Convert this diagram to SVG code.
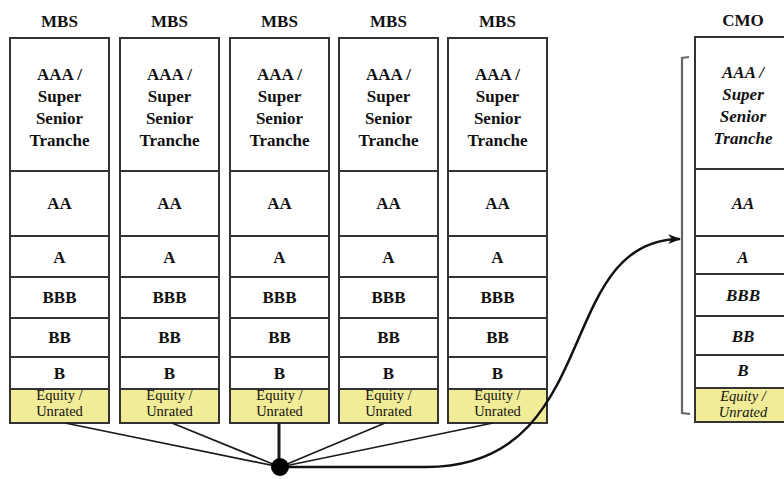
<svg xmlns="http://www.w3.org/2000/svg" width="784" height="479" viewBox="0 0 784 479">
<defs>
<style>
.box{fill:#fff;stroke:#333;stroke-width:2}
.eq{fill:#f1ec98;stroke:#333;stroke-width:2}
.div{stroke:#333;stroke-width:1.8}
.t{font-family:"Liberation Serif","Times New Roman",serif;font-weight:bold;font-size:17px;fill:#111;text-anchor:middle}
.e{font-family:"Liberation Serif","Times New Roman",serif;font-size:14.5px;fill:#111;text-anchor:middle}
.i{font-style:italic}
.fan{stroke:#1a1a1a;stroke-width:1.7;fill:none}
</style>
<marker id="arr" viewBox="0 0 12 10" refX="11" refY="5" markerWidth="13" markerHeight="11" markerUnits="userSpaceOnUse" orient="auto">
<path d="M0,0.5 L12,5 L0,9.5 L3.5,5 Z" fill="#111"/>
</marker>
<g id="mbsCol">
<rect class="box" x="0" y="38" width="99" height="385"/>
<line class="div" x1="0" y1="171" x2="99" y2="171"/>
<line class="div" x1="0" y1="236" x2="99" y2="236"/>
<line class="div" x1="0" y1="277" x2="99" y2="277"/>
<line class="div" x1="0" y1="318" x2="99" y2="318"/>
<line class="div" x1="0" y1="357" x2="99" y2="357"/>
<rect class="eq" x="0" y="389" width="99" height="34"/>
<text class="t" x="49.5" y="27">MBS</text>
<text class="t" x="49.5" y="80">AAA /</text>
<text class="t" x="49.5" y="102">Super</text>
<text class="t" x="49.5" y="124">Senior</text>
<text class="t" x="49.5" y="146">Tranche</text>
<text class="t" x="49.5" y="209">AA</text>
<text class="t" x="49.5" y="263">A</text>
<text class="t" x="49.5" y="303">BBB</text>
<text class="t" x="49.5" y="343">BB</text>
<text class="t" x="49.5" y="379">B</text>
<text class="e" x="49.5" y="400">Equity /</text>
<text class="e" x="49.5" y="416">Unrated</text>
</g>
</defs>
<g id="mbs1"><use href="#mbsCol" x="10"/></g>
<g id="mbs2"><use href="#mbsCol" x="120"/></g>
<g id="mbs3"><use href="#mbsCol" x="230"/></g>
<g id="mbs4"><use href="#mbsCol" x="339"/></g>
<g id="mbs5"><use href="#mbsCol" x="448"/></g>
<g id="cmo">
<rect class="box" x="695" y="37" width="98" height="385"/>
<line class="div" x1="695" y1="169" x2="793" y2="169"/>
<line class="div" x1="695" y1="236" x2="793" y2="236"/>
<line class="div" x1="695" y1="274" x2="793" y2="274"/>
<line class="div" x1="695" y1="316" x2="793" y2="316"/>
<line class="div" x1="695" y1="355" x2="793" y2="355"/>
<rect class="eq" x="695" y="388" width="98" height="34"/>
<text class="t" x="743" y="26">CMO</text>
<text class="t i" x="743" y="78">AAA /</text>
<text class="t i" x="743" y="100">Super</text>
<text class="t i" x="743" y="122">Senior</text>
<text class="t i" x="743" y="144">Tranche</text>
<text class="t i" x="743" y="209">AA</text>
<text class="t i" x="743" y="263">A</text>
<text class="t i" x="743" y="301">BBB</text>
<text class="t i" x="743" y="342">BB</text>
<text class="t i" x="743" y="376">B</text>
<text class="e i" x="743" y="401">Equity /</text>
<text class="e i" x="743" y="417">Unrated</text>
</g>
<g id="bracket">
<path d="M689,57 L682,58 L682,413 L690,414" fill="none" stroke="#666" stroke-width="2.2"/>
</g>
<g id="connectors">
<line class="fan" x1="65" y1="423" x2="280" y2="467"/>
<line class="fan" x1="172" y1="423" x2="280" y2="467"/>
<line class="fan" x1="279" y1="423" x2="279" y2="467" style="stroke-width:3"/>
<line class="fan" x1="385" y1="423" x2="280" y2="467"/>
<line class="fan" x1="493" y1="423" x2="280" y2="467"/>
<path d="M280,467 L425,467 C605,468 552,240 680,239" fill="none" stroke="#111" stroke-width="2.5" marker-end="url(#arr)"/>
<circle cx="280" cy="467" r="9" fill="#000"/>
</g>
</svg>
